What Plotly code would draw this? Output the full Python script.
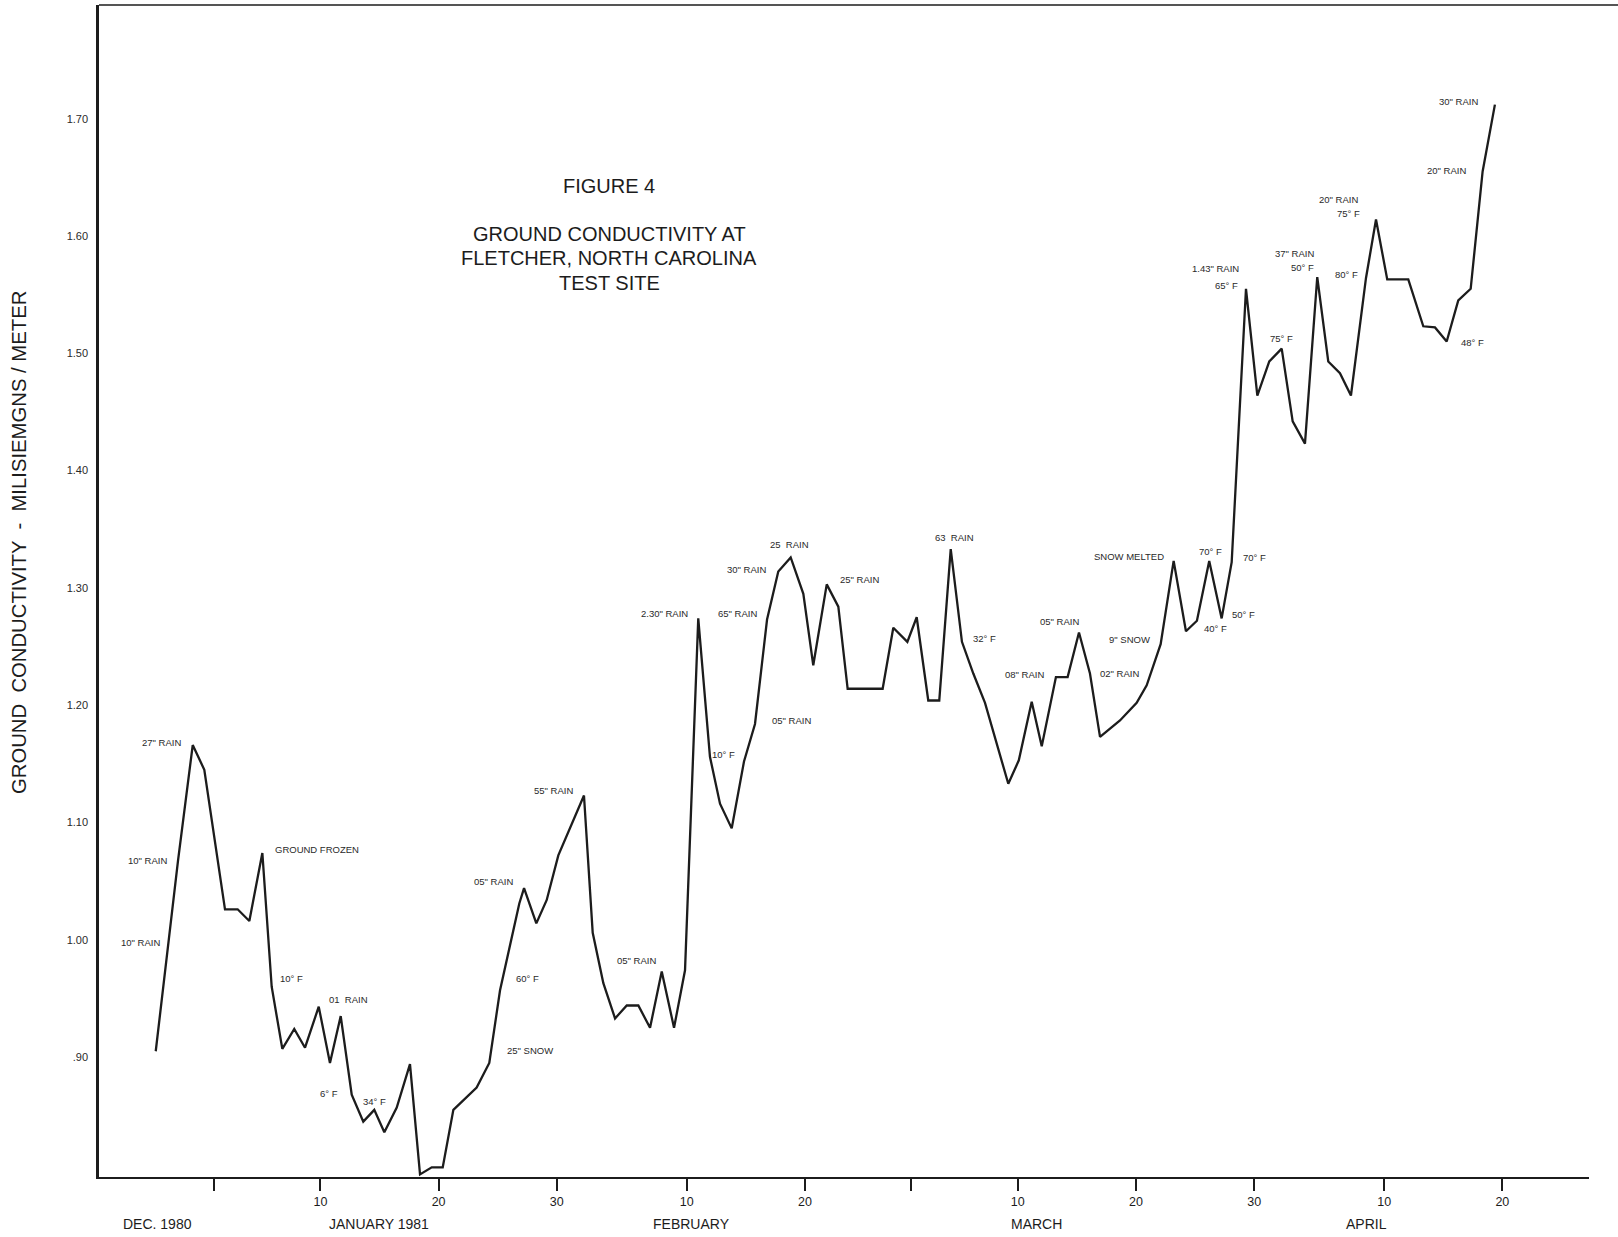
import pandas as pd
import plotly.graph_objects as go

# Day 0 of the record is 1 January 1981; negative days fall in December 1980.
SEASON_START = pd.Timestamp("1981-01-01")

# Reading day (days after 1 Jan 1981) for each conductivity measurement
reading_day = [
    -4.93, -3.83, -3.05, -1.80, -0.82, 0.93, 2.00, 2.99, 4.09, 4.88,
    5.78, 6.79, 7.70, 8.86, 9.81, 10.72, 11.65, 12.63, 13.56, 14.41,
    15.46, 16.58, 17.43, 18.42, 19.35, 20.25, 22.22, 23.29, 24.20, 25.83,
    26.23, 27.27, 28.15, 29.13, 31.30, 32.04, 32.94, 33.93, 34.92, 35.90,
    36.89, 37.88, 38.92, 39.85, 40.97, 41.96, 42.81, 43.80, 44.84, 45.77,
    46.79, 47.74, 48.79, 49.86, 50.70, 51.84, 52.82, 53.61, 56.57, 57.47,
    58.66, 59.45, 60.43, 61.36, 62.33, 63.28, 64.24, 65.23, 67.20, 68.09,
    69.18, 70.03, 71.23, 72.22, 73.18, 74.11, 74.96, 76.65, 78.06, 78.91,
    80.09, 81.19, 82.23, 83.16, 84.20, 85.25, 86.10, 87.31, 88.27, 89.28,
    90.33, 91.26, 92.30, 93.34, 94.27, 95.26, 96.19, 97.46, 98.31, 99.26,
    101.04, 102.31, 103.30, 104.29, 105.27, 106.32, 107.33, 108.37,
]

# Ground conductivity, millisiemens per metre
conductivity = [
    0.905, 0.997, 1.067, 1.166, 1.145, 1.026, 1.026, 1.016, 1.074, 0.960,
    0.907, 0.924, 0.908, 0.943, 0.895, 0.935, 0.868, 0.845, 0.855, 0.836,
    0.857, 0.894, 0.800, 0.806, 0.806, 0.855, 0.874, 0.895, 0.957, 1.031,
    1.044, 1.014, 1.034, 1.072, 1.123, 1.006, 0.963, 0.933, 0.944, 0.944,
    0.925, 0.973, 0.925, 0.974, 1.274, 1.156, 1.116, 1.095, 1.152, 1.184,
    1.273, 1.314, 1.326, 1.295, 1.234, 1.303, 1.284, 1.214, 1.214, 1.266,
    1.254, 1.275, 1.204, 1.204, 1.333, 1.254, 1.227, 1.202, 1.133, 1.153,
    1.203, 1.165, 1.224, 1.224, 1.262, 1.227, 1.173, 1.187, 1.202, 1.217,
    1.252, 1.323, 1.263, 1.272, 1.323, 1.274, 1.322, 1.555, 1.464, 1.493,
    1.504, 1.442, 1.423, 1.565, 1.493, 1.483, 1.464, 1.564, 1.614, 1.563,
    1.563, 1.523, 1.522, 1.510, 1.545, 1.555, 1.655, 1.712,
]

# Date ticks along the bottom axis
tick_days = [0, 9, 19, 29, 40, 50, 59, 68, 78, 88, 99, 109]
tick_labels = ["", "10", "20", "30", "10", "20", "", "10", "20", "30", "10", "20"]

# Month names written under the date ticks
month_names = ["DEC. 1980", "JANUARY 1981", "FEBRUARY", "MARCH", "APRIL"]
month_days = [-4.8, 14.0, 40.4, 69.6, 97.5]

# Conductivity ticks
y_ticks = [0.90, 1.00, 1.10, 1.20, 1.30, 1.40, 1.50, 1.60, 1.70]
y_tick_labels = [".90", "1.00", "1.10", "1.20", "1.30", "1.40", "1.50", "1.60", "1.70"]

# Weather notes written beside the curve: text, day, conductivity level
weather_notes = [
    ("10\" RAIN", -6.26, 0.998),
    ("10\" RAIN", -5.64, 1.068),
    ("27\" RAIN", -4.42, 1.168),
    ("GROUND FROZEN", 8.69, 1.077),
    ("10° F", 6.57, 0.967),
    ("01  RAIN", 11.36, 0.949),
    ("6° F", 9.75, 0.869),
    ("34° F", 13.54, 0.862),
    ("05\" RAIN", 23.63, 1.050),
    ("55\" RAIN", 28.71, 1.127),
    ("60° F", 26.51, 0.967),
    ("25\" SNOW", 26.73, 0.906),
    ("05\" RAIN", 35.76, 0.982),
    ("10° F", 43.09, 1.158),
    ("2.30\" RAIN", 38.10, 1.278),
    ("65\" RAIN", 44.31, 1.278),
    ("30\" RAIN", 45.07, 1.316),
    ("25  RAIN", 48.67, 1.337),
    ("25\" RAIN", 54.59, 1.307),
    ("05\" RAIN", 48.87, 1.187),
    ("63  RAIN", 62.63, 1.343),
    ("32° F", 65.17, 1.257),
    ("08\" RAIN", 68.53, 1.226),
    ("05\" RAIN", 71.51, 1.271),
    ("02\" RAIN", 76.65, 1.227),
    ("9\" SNOW", 77.44, 1.256),
    ("SNOW MELTED", 77.44, 1.327),
    ("70° F", 84.32, 1.331),
    ("70° F", 88.07, 1.326),
    ("40° F", 84.69, 1.265),
    ("50° F", 87.14, 1.277),
    ("1.43\" RAIN", 84.69, 1.572),
    ("65° F", 85.62, 1.558),
    ("75° F", 90.33, 1.513),
    ("37\" RAIN", 91.40, 1.585),
    ("50° F", 92.07, 1.573),
    ("20\" RAIN", 95.12, 1.631),
    ("75° F", 95.96, 1.619),
    ("80° F", 95.83, 1.567),
    ("48° F", 106.50, 1.509),
    ("20\" RAIN", 104.29, 1.656),
    ("30\" RAIN", 105.27, 1.715),
]

title_lines = ["FIGURE 4", "GROUND CONDUCTIVITY AT", "FLETCHER, NORTH CAROLINA", "TEST SITE"]
title_line_y = [0.8456, 0.8046, 0.7841, 0.7628]


def to_date(day):
    return (SEASON_START + pd.to_timedelta(day, unit="D")).strftime("%Y-%m-%d %H:%M:%S")


INK = "#1c1c1c"
SANS = "Liberation Sans, Arial, Helvetica, sans-serif"

dates = [to_date(d) for d in reading_day]

fig = go.Figure()
fig.add_trace(
    go.Scatter(
        x=dates,
        y=conductivity,
        mode="lines",
        line=dict(color=INK, width=2.3),
        showlegend=False,
        hoverinfo="x+y",
    )
)

annotations = []
for text, day, level in weather_notes:
    annotations.append(
        dict(
            text=text, x=to_date(day), y=level, xref="x", yref="y",
            showarrow=False, xanchor="center", yanchor="middle",
            font=dict(family=SANS, size=9.5, color="#2a2a2a"),
        )
    )

for name, day in zip(month_names, month_days):
    annotations.append(
        dict(
            text=name, x=to_date(day), y=-0.0401, xref="x", yref="paper",
            showarrow=False, xanchor="center", yanchor="middle",
            font=dict(family=SANS, size=14, color=INK),
        )
    )

for line, ypos in zip(title_lines, title_line_y):
    annotations.append(
        dict(
            text=line, x=0.3423, y=ypos, xref="paper", yref="paper",
            showarrow=False, xanchor="center", yanchor="middle",
            font=dict(family=SANS, size=20, color=INK),
        )
    )

annotations.append(
    dict(
        text="GROUND  CONDUCTIVITY  -  MILISIEMGNS / METER",
        x=-0.0537, y=0.5418, xref="paper", yref="paper",
        showarrow=False, textangle=-90, xanchor="center", yanchor="middle",
        font=dict(family=SANS, size=20.3, color=INK),
    )
)

fig.update_layout(
    width=1618,
    height=1237,
    autosize=False,
    margin=dict(l=99, r=29, t=5, b=60, pad=0),
    paper_bgcolor="white",
    plot_bgcolor="white",
    annotations=annotations,
    shapes=[
        # frame line running along the top of the sheet
        dict(type="line", xref="paper", yref="paper", x0=0, x1=1.0195, y0=1, y1=1,
             line=dict(color=INK, width=1.5)),
    ],
    xaxis=dict(
        type="date",
        range=[to_date(-9.73), to_date(116.33)],
        tickmode="array",
        tickvals=[to_date(d) for d in tick_days],
        ticktext=tick_labels,
        ticks="outside",
        ticklen=12,
        tickwidth=1.5,
        tickcolor=INK,
        showline=True,
        linewidth=2,
        linecolor=INK,
        showgrid=False,
        zeroline=False,
        tickfont=dict(family=SANS, size=12.5, color=INK),
    ),
    yaxis=dict(
        range=[0.7978, 1.7969],
        tickmode="array",
        tickvals=y_ticks,
        ticktext=y_tick_labels,
        ticks="",
        showline=True,
        linewidth=2.5,
        linecolor=INK,
        showgrid=False,
        zeroline=False,
        ticklabelstandoff=6,
        tickfont=dict(family=SANS, size=11, color="#2a2a2a"),
    ),
)

fig.write_html("out.html")
